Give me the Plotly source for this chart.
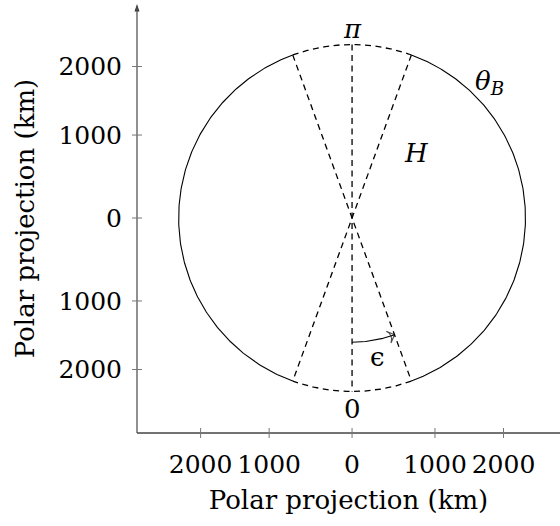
import numpy as np
import plotly.graph_objects as go

# ---- data / geometry (km) ----
R_KM = 2290            # radius of the theta_B circle
EPS_DEG = 20           # half opening angle of the cone (epsilon)
EPS_ARC_R = 1640       # radius of epsilon arrow arc
tick_vals = [-2000, -1095, 0, 1095, 2000]
tick_text = ["2000", "1000", "0", "1000", "2000"]
x_range = [-2840, 2746]
y_range = [-2838, 2825]
labels = {
    "pi": (0, 2495),
    "zero": (0, -2520),
    "thetaB": (1810, 1795),
    "H": (845, 858),
    "eps": (330, -1835),
}

FONT = "DejaVu Serif"
FS_TICK = 25
FS = 26
L, Rm, T, B = 137, 0, 4, 93
W, Hh = 560, 526
pw, ph = W - L - Rm, Hh - T - B

fig = go.Figure()

def arc(a0, a1, r, n=200):
    a = np.radians(np.linspace(a0, a1, n))
    return r * np.sin(a), r * np.cos(a)

solid = dict(color="black", width=1.1)
dashed = dict(color="black", width=1.3, dash="6px,4.5px")

for a0, a1 in [(EPS_DEG, 180 - EPS_DEG), (180 + EPS_DEG, 360 - EPS_DEG)]:
    x, y = arc(a0, a1, R_KM)
    fig.add_trace(go.Scatter(x=x, y=y, mode="lines", line=solid, hoverinfo="skip"))
for a0, a1 in [(-EPS_DEG, EPS_DEG), (180 - EPS_DEG, 180 + EPS_DEG)]:
    x, y = arc(a0, a1, R_KM)
    fig.add_trace(go.Scatter(x=x, y=y, mode="lines", line=dashed, hoverinfo="skip"))
for ang in [-EPS_DEG, 0, EPS_DEG]:
    x1, y1 = arc(ang, ang, R_KM, 1)
    fig.add_trace(go.Scatter(x=[x1[0], -x1[0]], y=[y1[0], -y1[0]], mode="lines",
                             line=dashed, hoverinfo="skip"))
ex, ey = arc(180, 180 - EPS_DEG, EPS_ARC_R)
n = len(ex)
fig.add_trace(go.Scatter(x=ex, y=ey, mode="lines+markers",
                         line=dict(color="black", width=1.1),
                         marker=dict(symbol=["circle"] * (n - 1) + ["arrow-wide-open"],
                                     size=[0] * (n - 1) + [9], angleref="previous",
                                     color="black", line=dict(color="black", width=1.1)),
                         hoverinfo="skip"))

# y-axis arrowhead (top of the vertical axis)
fig.add_trace(go.Scatter(x=[x_range[0]], y=[y_range[1]], mode="markers", cliponaxis=False,
                         marker=dict(symbol="arrow", size=8, angle=0, color="#333",
                                     line=dict(width=0)),
                         hoverinfo="skip"))

txtfont = dict(family=FONT, size=FS, color="black")
annotations = [
    dict(x=labels["pi"][0], y=labels["pi"][1], text="<i>π</i>", showarrow=False, font=txtfont),
    dict(x=labels["zero"][0], y=labels["zero"][1], text="0", showarrow=False, font=txtfont),
    dict(x=labels["thetaB"][0], y=labels["thetaB"][1], text="<i>θ<sub>B</sub></i>",
         showarrow=False, font=txtfont),
    dict(x=labels["H"][0], y=labels["H"][1], text="<i>H</i>", showarrow=False, font=txtfont),
    dict(x=labels["eps"][0], y=labels["eps"][1], text="ϵ", showarrow=False, font=txtfont),
]

shapes = [
    dict(type="line", xref="paper", yref="paper", x0=0, x1=1, y0=0, y1=0,
         line=dict(color="#444", width=1.3)),
    dict(type="line", xref="paper", yref="paper", x0=0, x1=0, y0=0, y1=0.995,
         line=dict(color="#555", width=1.3)),
]
for v in tick_vals:
    shapes.append(dict(type="line", xref="x", yref="paper", x0=v, x1=v,
                       y0=-5 / ph, y1=5 / ph, line=dict(color="#777", width=1)))
    shapes.append(dict(type="line", xref="paper", yref="y", y0=v, y1=v,
                       x0=-5 / pw, x1=5 / pw, line=dict(color="#777", width=1)))

axis_common = dict(showgrid=False, zeroline=False, showline=False, ticks="",
                   tickvals=tick_vals, ticktext=tick_text,
                   tickfont=dict(family=FONT, size=FS_TICK, color="black"))
fig.update_layout(
    width=W, height=Hh,
    margin=dict(l=L, r=Rm, t=T, b=B, autoexpand=False),
    plot_bgcolor="white", paper_bgcolor="white",
    showlegend=False,
    font=dict(family=FONT),
    xaxis=dict(range=x_range, ticklabelstandoff=14,
               title=dict(text="Polar projection (km)", standoff=12,
                          font=dict(family=FONT, size=FS, color="black")),
               **axis_common),
    yaxis=dict(range=y_range, ticklabelstandoff=14,
               title=dict(text="Polar projection (km)", standoff=16,
                          font=dict(family=FONT, size=FS, color="black")),
               **axis_common),
    annotations=annotations,
    shapes=shapes,
)

fig.write_html("out.html")
